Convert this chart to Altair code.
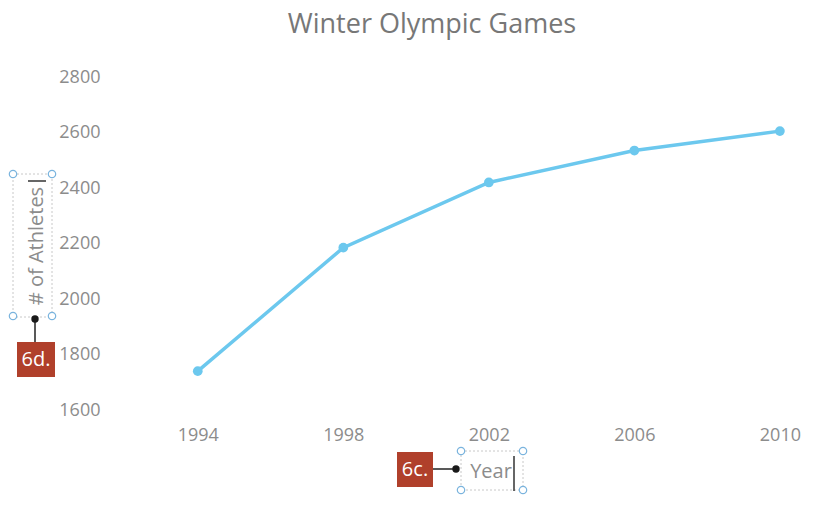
import altair as alt
import pandas as pd

years = [1994, 1998, 2002, 2006, 2010]
athletes = [1740, 2185, 2420, 2535, 2605]
y_ticks = [1600, 1800, 2000, 2200, 2400, 2600, 2800]

FONT = "Open Sans"
LINE = "#6cc8ee"
GREY = "#8c8c8c"
RED = "#b0402b"
HANDLE = "#7ab4de"

# plot area origin in page pixels (page margin 8 + padding)
PL, PT = 125, 77
W, H = 684, 333

df = pd.DataFrame({"Year": years, "Athletes": athletes})

x = alt.X("Year:Q", scale=alt.Scale(domain=[1992, 2010.8], nice=False, zero=False),
          axis=alt.Axis(values=years, format="d", title=None, grid=False, domain=False,
                        ticks=False, labelPadding=16, labelFontSize=18, labelColor=GREY,
                        labelFont=FONT))
y = alt.Y("Athletes:Q", scale=alt.Scale(domain=[1600, 2800], nice=False, zero=False),
          axis=alt.Axis(values=y_ticks, format="d", title=None, grid=False, domain=False,
                        ticks=False, labelPadding=25, labelFontSize=18, labelColor=GREY,
                        labelFont=FONT))

line = alt.Chart(df).mark_line(color=LINE, strokeWidth=3.5).encode(x=x, y=y)
pts = alt.Chart(df).mark_point(color=LINE, filled=True, opacity=1, size=95).encode(x=x, y=y)

base = alt.Chart(pd.DataFrame({"a": [0]}))


def px(v):
    return alt.value(v - PL)


def py(v):
    return alt.value(v - PT)


def text(t, xx, yy, size, color, angle=0, weight="normal"):
    return base.mark_text(text=t, fontSize=size, color=color, font=FONT, angle=angle,
                          align="center", baseline="middle", fontWeight=weight).encode(
        x=px(xx), y=py(yy))


def box(x1, y1, x2, y2, **kw):
    return base.mark_rect(**kw).encode(x=px(x1), x2=px(x2), y=py(y1), y2=py(y2))


def rule(x1, y1, x2, y2, color="#222", w=1.5):
    return base.mark_rule(color=color, strokeWidth=w).encode(
        x=px(x1), x2=px(x2), y=py(y1), y2=py(y2))


def dot(xx, yy, size, fill, stroke=None, sw=1):
    kw = dict(shape="circle", filled=True, fill=fill, opacity=1, size=size)
    if stroke:
        kw.update(stroke=stroke, strokeWidth=sw)
    return base.mark_point(**kw).encode(x=px(xx), y=py(yy))


layers = [line, pts]

# y axis title with selection box
layers.append(box(13, 174, 52, 317, fill=None, stroke="#c8c8c8", strokeDash=[2, 2], strokeWidth=1))
layers.append(text("# of Athletes", 37, 246, 20, GREY, angle=270))
layers.append(rule(28, 181, 46, 181, color="#333", w=1.5))
for cx, cy in [(13, 174), (52, 174), (13, 316), (52, 316)]:
    layers.append(dot(cx, cy, 55, "white", HANDLE, 1.2))

# callout 6d.
layers.append(rule(35, 319, 35, 343))
layers.append(dot(35, 319, 55, "#1a1a1a"))
layers.append(box(17, 342, 55, 377, fill=RED))
layers.append(text("6d.", 36, 360, 20, "white"))

# x axis title with selection box
layers.append(box(461, 451, 523, 490, fill=None, stroke="#c8c8c8", strokeDash=[2, 2], strokeWidth=1))
layers.append(text("Year", 491, 472, 20, GREY))
layers.append(rule(514, 456, 514, 491, color="#333", w=1.5))
for cx, cy in [(461, 451), (523, 451), (461, 490), (523, 490)]:
    layers.append(dot(cx, cy, 55, "white", HANDLE, 1.2))

# callout 6c.
layers.append(rule(432, 469, 456, 469))
layers.append(dot(456, 469, 55, "#1a1a1a"))
layers.append(box(397, 452, 433, 487, fill=RED))
layers.append(text("6c.", 415, 470, 20, "white"))

chart = alt.layer(*layers).properties(
    width=W, height=H,
    title=alt.TitleParams("Winter Olympic Games", fontSize=27, color="#777777", font=FONT,
                          fontWeight="normal", anchor="middle", dx=-35, offset=8,
                          baseline="alphabetic"),
    autosize=alt.AutoSizeParams(type="none"),
    padding={"left": PL - 8, "top": PT - 8, "right": 0, "bottom": 89},
    background="white",
).configure(font=FONT).configure_view(stroke=None)

chart.save("out.html", embed_options={"renderer": "svg", "actions": False})
